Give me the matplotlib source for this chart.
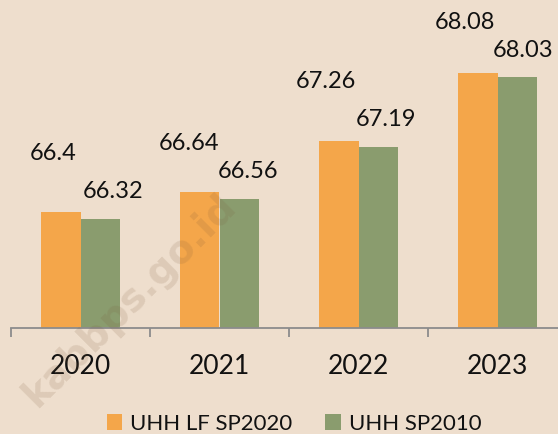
import matplotlib
matplotlib.use("Agg")
import matplotlib.pyplot as plt
import numpy as np

years = ["2020", "2021", "2022", "2023"]
uhh_lf_sp2020 = [66.4, 66.64, 67.26, 68.08]
uhh_sp2010 = [66.32, 66.56, 67.19, 68.03]
series_names = ["UHH LF SP2020", "UHH SP2010"]

# label offsets (pixels) relative to bar top centre
lf_offsets = [(-8, 59), (-11, 49), (-13, 59), (-13, 50)]
sp_offsets = [(13, 27), (9, 27), (8, 27), (6, 27)]

BG = "#EEDECD"
ORANGE = "#F4A64A"
GREEN = "#8A9C6E"

plt.rcParams["font.family"] = ["Lato", "DejaVu Sans"]

fig = plt.figure(figsize=(5.58, 4.34), dpi=100)
fig.patch.set_facecolor(BG)
H = 434.0
W = 558.0
ax = fig.add_axes([11 / W, 106 / H, 556 / W, 4 * 82.8 / H])
ax.set_facecolor(BG)
ax.patch.set_alpha(0)

x = np.arange(len(years))
bw = 0.285
b1 = ax.bar(x - bw / 2, uhh_lf_sp2020, bw, color=ORANGE, label=series_names[0], zorder=2)
b2 = ax.bar(x + bw / 2, uhh_sp2010, bw, color=GREEN, label=series_names[1], zorder=2)

ax.set_ylim(65, 69)
ax.set_xlim(-0.5, len(years) - 0.5)

for rect, v, off in zip(b1, uhh_lf_sp2020, lf_offsets):
    ax.annotate(f"{v:g}", (rect.get_x() + rect.get_width() / 2, v),
                xytext=off, textcoords="offset pixels", ha="center", va="center",
                fontsize=17, color="#111111", annotation_clip=False)
for rect, v, off in zip(b2, uhh_sp2010, sp_offsets):
    ax.annotate(f"{v:g}", (rect.get_x() + rect.get_width() / 2, v),
                xytext=off, textcoords="offset pixels", ha="center", va="center",
                fontsize=17, color="#111111", annotation_clip=False)

for s in ["top", "right", "left"]:
    ax.spines[s].set_visible(False)
ax.spines["bottom"].set_color("#8C8C8C")
ax.spines["bottom"].set_linewidth(1.3)
ax.set_yticks([])
ax.set_xticks(x)
ax.set_xticklabels(years, fontsize=19, color="#111111")
ax.tick_params(axis="x", which="major", length=0, pad=19)
ax.set_xticks(np.arange(-0.5, len(years) + 0.5, 1), minor=True)
ax.tick_params(axis="x", which="minor", length=6.5, width=1.3, color="#8C8C8C")

leg = fig.legend(handles=[b1, b2], labels=series_names, loc="center",
                 bbox_to_anchor=(294 / W, 1 - 424 / H), ncol=2, frameon=False,
                 fontsize=16, handlelength=0.7, handleheight=0.7,
                 handletextpad=0.35, columnspacing=1.5, borderpad=0)
for t in leg.get_texts():
    t.set_color("#111111")

fig.text(130 / W, 1 - 300 / H, "kabbps.go.id", rotation=45, rotation_mode="anchor",
         ha="center", va="center", fontsize=28, fontweight="bold",
         color="#7A5A3A", alpha=0.15, zorder=10, family="DejaVu Sans")

fig.savefig("out.png", dpi=100, facecolor=BG)
